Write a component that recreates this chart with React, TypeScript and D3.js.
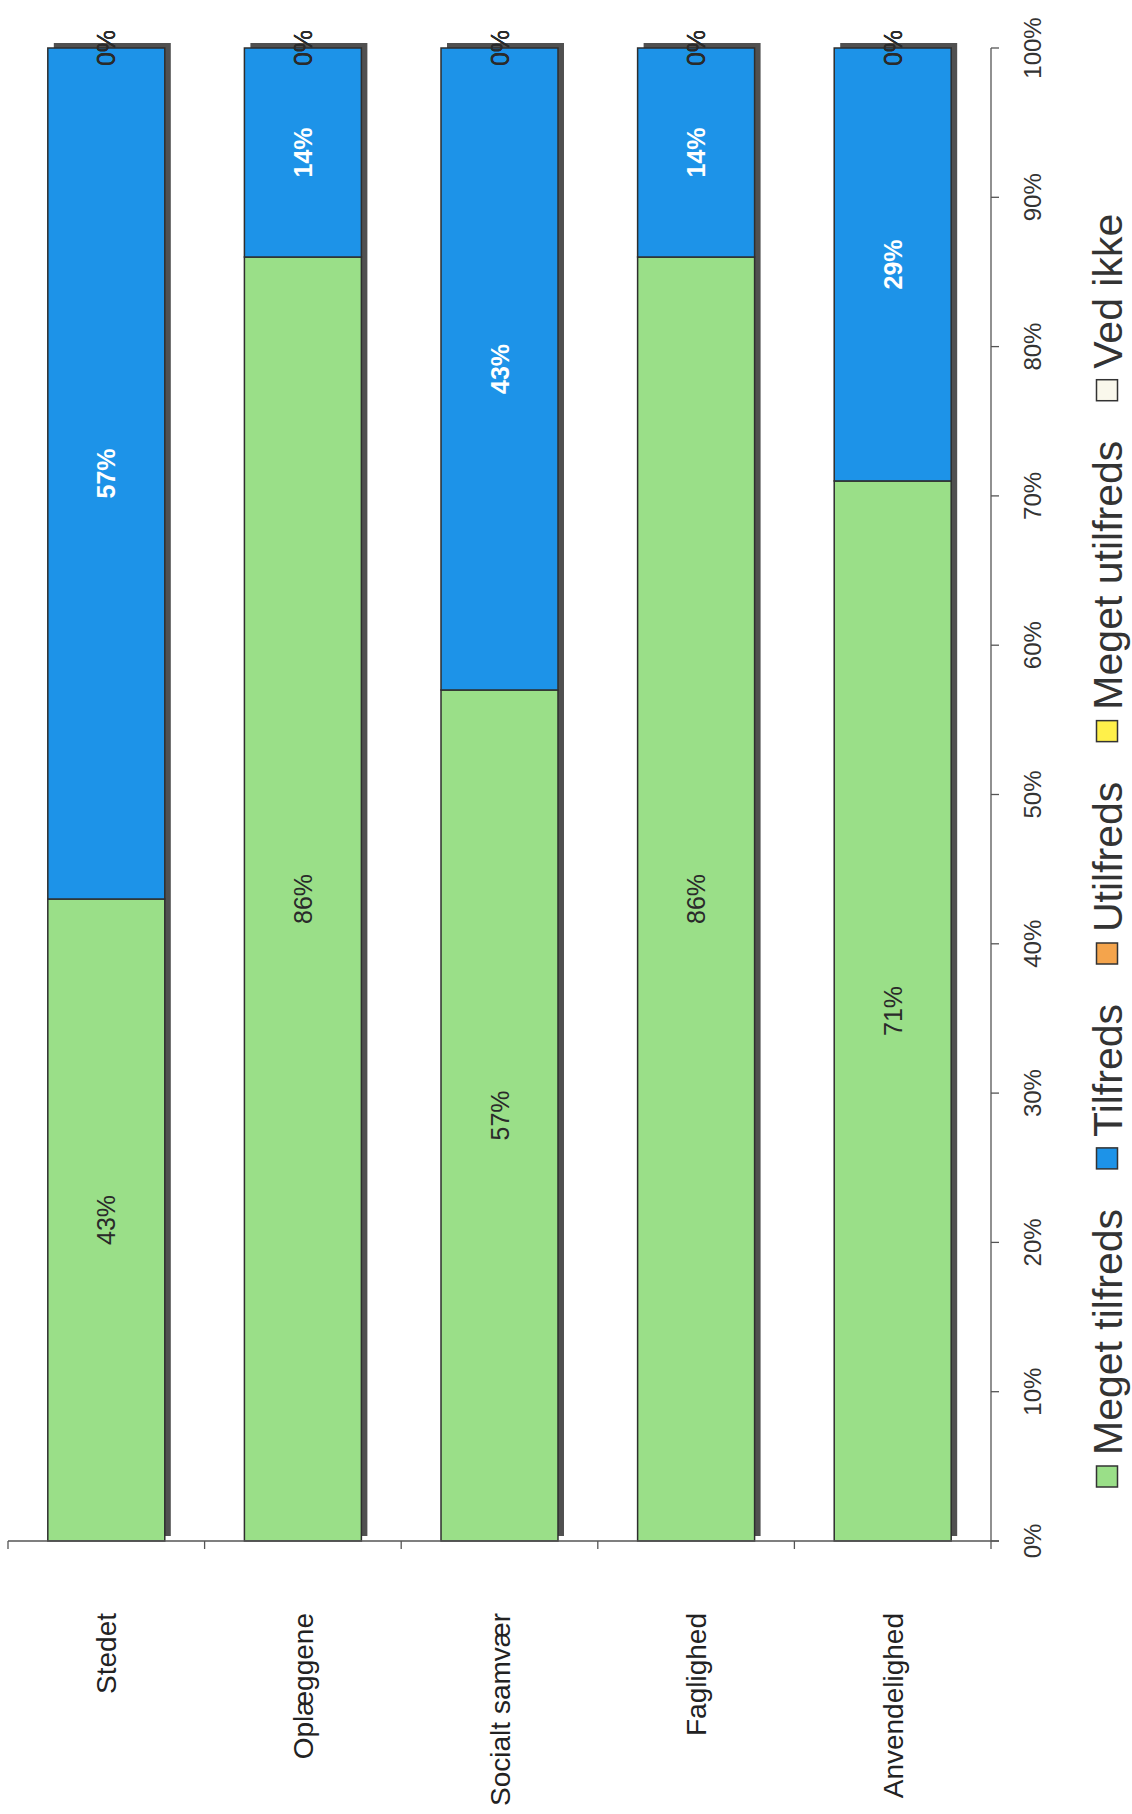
import { useEffect, useRef } from 'react';
import * as d3 from 'd3';

const categories = ['Stedet', 'Oplæggene', 'Socialt samvær', 'Faglighed', 'Anvendelighed'];
const seriesNames = ['Meget tilfreds', 'Tilfreds', 'Utilfreds', 'Meget utilfreds', 'Ved ikke'];
const megetTilfreds = [43, 86, 57, 86, 71];
const tilfreds = [57, 14, 43, 14, 29];
const utilfreds = [0, 0, 0, 0, 0];
const megetUtilfreds = [0, 0, 0, 0, 0];
const vedIkke = [0, 0, 0, 0, 0];
const valueTicks = [0, 10, 20, 30, 40, 50, 60, 70, 80, 90, 100];
const colors = ['#9ADF88', '#1D93E8', '#F4A44C', '#FFF04A', '#FAF8EC'];

const FONT = "'Liberation Sans', Arial, sans-serif";

const App = () => {
  const svgRef = useRef<SVGSVGElement>(null);

  useEffect(() => {
    const svg = d3.select(svgRef.current);
    svg.selectAll('*').remove();

    const width = 1132;
    const height = 1814;
    const plot = { left: 8, right: 991, top: 48, bottom: 1541 };

    // tabel til stack
    const seriesValues = [megetTilfreds, tilfreds, utilfreds, megetUtilfreds, vedIkke];
    const rows = categories.map((c, i) => {
      const row: Record<string, any> = { cat: c };
      seriesNames.forEach((s, j) => (row[s] = seriesValues[j][i]));
      return row;
    });
    const stacked = d3.stack().keys(seriesNames)(rows as any);

    const x = d3
      .scaleBand()
      .domain(categories)
      .range([plot.left, plot.right])
      .paddingInner(0.405)
      .paddingOuter(0.2025);
    const y = d3.scaleLinear().domain([0, 100]).range([plot.bottom, plot.top]);

    const g = svg.append('g').style('font-family', FONT);

    // skygge bag søjlerne
    g.selectAll('rect.shadow')
      .data(categories)
      .enter()
      .append('rect')
      .attr('class', 'shadow')
      .attr('x', (d) => x(d)! + 6)
      .attr('y', y(100) - 5)
      .attr('width', x.bandwidth())
      .attr('height', y(0) - y(100))
      .attr('fill', '#505050');

    // søjlesegmenter
    stacked.forEach((layer, j) => {
      g.append('g')
        .selectAll('rect')
        .data(layer)
        .enter()
        .append('rect')
        .attr('x', (d: any) => x(d.data.cat)!)
        .attr('y', (d) => y(d[1]))
        .attr('width', x.bandwidth())
        .attr('height', (d) => y(d[0]) - y(d[1]))
        .attr('fill', colors[j])
        .attr('stroke', '#2e2e2e')
        .attr('stroke-width', 1.5);
    });

    // dataetiketter
    stacked.forEach((layer, j) => {
      g.append('g')
        .selectAll('text')
        .data(layer)
        .enter()
        .append('text')
        .attr(
          'transform',
          (d: any) => `translate(${x(d.data.cat)! + x.bandwidth() / 2},${y((d[0] + d[1]) / 2)}) rotate(-90)`
        )
        .attr('text-anchor', 'middle')
        .attr('dy', '0.36em')
        .attr('font-size', 25)
        .attr('font-weight', j === 1 ? 'bold' : 'normal')
        .attr('fill', j === 1 ? '#ffffff' : '#2a2a2a')
        .text((d) => `${Math.round(d[1] - d[0])}%`);
    });

    // kategoriakse
    g.append('line')
      .attr('x1', plot.left)
      .attr('x2', plot.right + 8)
      .attr('y1', plot.bottom)
      .attr('y2', plot.bottom)
      .attr('stroke', '#555')
      .attr('stroke-width', 1.3);
    const step = x.step();
    g.selectAll('line.ctick')
      .data(d3.range(categories.length + 1))
      .enter()
      .append('line')
      .attr('class', 'ctick')
      .attr('x1', (i) => plot.left + i * step)
      .attr('x2', (i) => plot.left + i * step)
      .attr('y1', plot.bottom)
      .attr('y2', plot.bottom + 8)
      .attr('stroke', '#555')
      .attr('stroke-width', 1.3);
    g.selectAll('text.clabel')
      .data(categories)
      .enter()
      .append('text')
      .attr('class', 'clabel')
      .attr('transform', (d) => `translate(${x(d)! + x.bandwidth() / 2},1613) rotate(-90)`)
      .attr('text-anchor', 'end')
      .attr('dy', '0.36em')
      .attr('font-size', 28)
      .attr('fill', '#222')
      .text((d) => d);

    // værdiakse
    g.append('line')
      .attr('x1', plot.right)
      .attr('x2', plot.right)
      .attr('y1', y(100))
      .attr('y2', y(0))
      .attr('stroke', '#555')
      .attr('stroke-width', 1.3);
    g.selectAll('line.vtick')
      .data(valueTicks)
      .enter()
      .append('line')
      .attr('class', 'vtick')
      .attr('x1', plot.right)
      .attr('x2', plot.right + 8)
      .attr('y1', (d) => y(d))
      .attr('y2', (d) => y(d))
      .attr('stroke', '#555')
      .attr('stroke-width', 1.3);
    g.selectAll('text.vlabel')
      .data(valueTicks)
      .enter()
      .append('text')
      .attr('class', 'vlabel')
      .attr('transform', (d) => `translate(1032,${y(d)}) rotate(-90)`)
      .attr('text-anchor', 'middle')
      .attr('dy', '0.36em')
      .attr('font-size', 24)
      .attr('fill', '#333')
      .text((d) => `${d}%`);

    // forklaring (roteret)
    const legend = g.append('g');
    let pos = 1487;
    const sw = 21;
    const cx = 1107;
    seriesNames.forEach((name, j) => {
      legend
        .append('rect')
        .attr('x', cx - sw / 2)
        .attr('y', pos - sw)
        .attr('width', sw)
        .attr('height', sw)
        .attr('fill', colors[j])
        .attr('stroke', '#333')
        .attr('stroke-width', 1.5);
      const t = legend
        .append('text')
        .attr('transform', `translate(${cx},${pos - sw - 11}) rotate(-90)`)
        .attr('dy', '0.36em')
        .attr('font-size', 41)
        .attr('fill', '#333')
        .text(name);
      const len = (t.node() as SVGTextElement).getComputedTextLength();
      pos = pos - sw - 11 - len - 40;
    });

    svg.attr('width', width).attr('height', height);
  }, []);

  return (
    <svg
      ref={svgRef}
      width={1132}
      height={1814}
      style={{ position: 'absolute', left: 0, top: 0, background: '#fff' }}
    ></svg>
  );
};

export default App;
